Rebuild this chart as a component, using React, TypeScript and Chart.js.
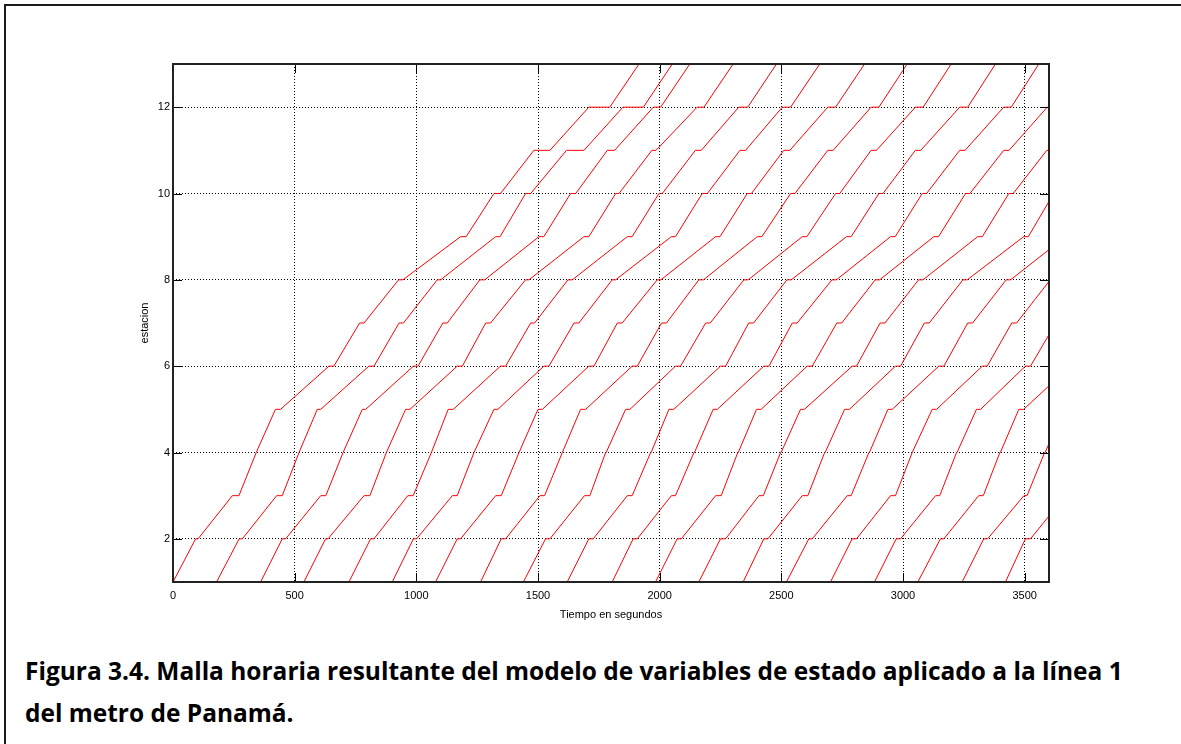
import React, { useEffect, useLayoutEffect, useRef, useState } from 'react';
import { Chart, registerables } from 'chart.js';

Chart.register(...registerables);

// Station visited at each point of a trajectory: depart 1, arrive/depart 2..12, arrive 13
const stationSeq = [1, 2, 2, 3, 3, 4, 4, 5, 5, 6, 6, 7, 7, 8, 8, 9, 9, 10, 10, 11, 11, 12, 12, 13];

const xTickValues = [0, 500, 1000, 1500, 2000, 2500, 3000, 3500];
const yTickValues = [2, 4, 6, 8, 10, 12];

// Times (s) for each train, in the order of stationSeq
const tren01 = [0, 93, 103, 244, 271, 342, 344, 421, 442, 641, 661, 767, 785, 927, 945, 1182, 1205, 1319, 1346, 1483, 1549, 1709, 1795, 1915];
const tren02 = [179, 272, 285, 426, 449, 518, 520, 593, 607, 805, 826, 929, 947, 1086, 1100, 1326, 1344, 1449, 1470, 1617, 1689, 1849, 1933, 2052];
const tren03 = [360, 449, 463, 607, 628, 699, 701, 778, 792, 988, 1007, 1109, 1127, 1261, 1281, 1504, 1524, 1634, 1655, 1785, 1815, 1974, 2004, 2124];
const tren04 = [538, 627, 637, 785, 809, 877, 879, 956, 974, 1168, 1189, 1285, 1305, 1449, 1463, 1689, 1709, 1819, 1833, 1968, 1985, 2154, 2182, 2302];
const tren05 = [723, 812, 826, 965, 987, 1062, 1064, 1131, 1152, 1346, 1367, 1470, 1486, 1623, 1641, 1867, 1887, 1997, 2011, 2147, 2171, 2325, 2362, 2480];
const tren06 = [901, 988, 1001, 1148, 1168, 1237, 1239, 1319, 1335, 1524, 1545, 1648, 1668, 1805, 1819, 2048, 2065, 2175, 2196, 2330, 2353, 2504, 2538, 2658];
const tren07 = [1079, 1168, 1182, 1326, 1349, 1422, 1424, 1500, 1518, 1709, 1730, 1826, 1846, 1990, 2005, 2230, 2248, 2360, 2377, 2510, 2535, 2691, 2723, 2842];
const tren08 = [1264, 1349, 1367, 1508, 1527, 1600, 1602, 1675, 1696, 1887, 1908, 2008, 2028, 2161, 2180, 2401, 2420, 2538, 2556, 2691, 2713, 2869, 2901, 3017];
const tren09 = [1440, 1531, 1549, 1691, 1713, 1778, 1780, 1860, 1878, 2065, 2086, 2189, 2208, 2346, 2364, 2586, 2605, 2723, 2740, 2869, 2891, 3051, 3083, 3198];
const tren10 = [1620, 1709, 1727, 1867, 1887, 1963, 1965, 2038, 2058, 2250, 2271, 2366, 2386, 2523, 2541, 2768, 2787, 2901, 2918, 3051, 3073, 3233, 3266, 3380];
const tren11 = [1805, 1891, 1908, 2048, 2065, 2141, 2143, 2220, 2237, 2428, 2449, 2545, 2565, 2708, 2726, 2949, 2968, 3079, 3097, 3233, 3255, 3414, 3445, 3558];
const tren12 = [1983, 2072, 2089, 2230, 2253, 2321, 2323, 2398, 2417, 2606, 2627, 2728, 2748, 2886, 2904, 3127, 3146, 3257, 3275, 3414, 3436, 3593, 3625];
const tren13 = [2161, 2250, 2271, 2408, 2426, 2497, 2499, 2579, 2595, 2791, 2809, 2906, 2926, 3064, 3082, 3307, 3326, 3435, 3453, 3591, 3613];
const tren14 = [2343, 2428, 2445, 2586, 2609, 2678, 2680, 2760, 2780, 2969, 2990, 3088, 3108, 3246, 3264, 3496, 3515, 3619];
const tren15 = [2521, 2613, 2627, 2771, 2787, 2860, 2862, 2938, 2956, 3147, 3168, 3266, 3286, 3424, 3442, 3668];
const tren16 = [2702, 2791, 2809, 2949, 2969, 3038, 3040, 3120, 3138, 3326, 3346, 3447, 3467, 3605];
const tren17 = [2883, 2972, 2990, 3134, 3151, 3220, 3222, 3302, 3319, 3503, 3524, 3628];
const tren18 = [3061, 3154, 3168, 3311, 3330, 3398, 3400, 3476, 3496, 3687];
const tren19 = [3243, 3332, 3348, 3497, 3510, 3582, 3584, 3661];
const tren20 = [3421, 3503, 3524, 3668];

const trenes = [tren01, tren02, tren03, tren04, tren05, tren06, tren07, tren08, tren09, tren10,
  tren11, tren12, tren13, tren14, tren15, tren16, tren17, tren18, tren19, tren20];

const captionLine1 = 'Figura 3.4. Malla horaria resultante del modelo de variables de estado aplicado a la línea 1';
const captionLine2 = 'del metro de Panamá.';
const captionFamily = '"Open Sans", Lato, sans-serif';

const matlabAxes = {
  id: 'matlabAxes',
  afterDraw(chart: any) {
    const { ctx, chartArea, scales } = chart;
    const { left, right, top, bottom } = chartArea;
    const xs = scales.x;
    const ys = scales.y;
    const len = 9;
    ctx.save();
    ctx.strokeStyle = '#000';
    ctx.lineWidth = 1;
    ctx.beginPath();
    for (const t of xs.ticks) {
      const px = Math.round(xs.getPixelForValue(t.value)) + 0.5;
      ctx.moveTo(px, bottom);
      ctx.lineTo(px, bottom - len);
      ctx.moveTo(px, top);
      ctx.lineTo(px, top + len);
    }
    for (const t of ys.ticks) {
      const py = Math.round(ys.getPixelForValue(t.value)) + 0.5;
      ctx.moveTo(left, py);
      ctx.lineTo(left + len, py);
      ctx.moveTo(right, py);
      ctx.lineTo(right - len, py);
    }
    ctx.stroke();
    ctx.lineWidth = 2;
    ctx.strokeStyle = '#222';
    ctx.strokeRect(left, top, right - left, bottom - top);
    ctx.restore();
  },
};

const tickFont = { family: '"Liberation Sans", Arial, sans-serif', size: 11 };

export default function App() {
  const ref = useRef<HTMLCanvasElement>(null);
  const [capSize, setCapSize] = useState(26);

  useLayoutEffect(() => {
    const c = document.createElement('canvas');
    const ctx = c.getContext('2d');
    if (!ctx) return;
    ctx.font = `700 100px ${captionFamily}`;
    const w = ctx.measureText(captionLine1).width;
    if (w > 0) setCapSize((100 * 1098) / w);
  }, []);

  useEffect(() => {
    const canvas = ref.current;
    if (!canvas) return;
    const chart = new Chart(canvas, {
      type: 'line',
      data: {
        datasets: trenes.map((tr, i) => ({
          label: `Tren ${i + 1}`,
          data: tr.map((t, k) => ({ x: t, y: stationSeq[k] })),
          borderColor: '#ff0000',
          backgroundColor: '#ff0000',
          borderWidth: 1,
          pointRadius: 0,
          pointHoverRadius: 0,
          fill: false,
          tension: 0,
        })),
      },
      options: {
        animation: false,
        responsive: false,
        maintainAspectRatio: false,
        events: [],
        layout: { padding: { left: 133, right: 132, top: 64, bottom: 13 } },
        plugins: {
          legend: { display: false },
          tooltip: { enabled: false },
        },
        scales: {
          x: {
            type: 'linear',
            min: 0,
            max: 3600,
            afterBuildTicks: (s: any) => {
              s.ticks = xTickValues.map((v) => ({ value: v }));
            },
            afterFit: (s: any) => {
              s.height = 45;
            },
            ticks: {
              color: '#000',
              font: tickFont,
              padding: 7,
              maxRotation: 0,
              autoSkip: false,
              callback: (v: any) => String(v),
            },
            grid: { color: '#000', lineWidth: 1, drawTicks: false },
            border: { display: false, dash: [1, 2] },
            title: {
              display: true,
              text: 'Tiempo en segundos',
              color: '#000',
              font: tickFont,
              padding: { top: 0, bottom: 5 },
            },
          },
          y: {
            type: 'linear',
            min: 1,
            max: 13,
            afterBuildTicks: (s: any) => {
              s.ticks = yTickValues.map((v) => ({ value: v }));
            },
            afterFit: (s: any) => {
              s.width = 40;
            },
            ticks: {
              color: '#000',
              font: tickFont,
              padding: 3,
              autoSkip: false,
              callback: (v: any) => String(v),
            },
            grid: { color: '#000', lineWidth: 1, drawTicks: false },
            border: { display: false, dash: [1, 2] },
            title: {
              display: true,
              text: 'estacion',
              color: '#000',
              font: tickFont,
              padding: { top: 5, bottom: 0 },
            },
          },
        },
      },
      plugins: [matlabAxes],
    } as any);
    return () => chart.destroy();
  }, []);

  // Open Sans metrics: ascent 1.069 em, descent 0.293 em
  const lineH = 42;
  const baselineInBox = (lineH - 1.362 * capSize) / 2 + 1.069 * capSize;
  const capTop = 680 - baselineInBox;

  return (
    <div
      style={{
        position: 'absolute',
        left: 0,
        top: 0,
        width: 1181,
        height: 744,
        background: '#fff',
        overflow: 'hidden',
      }}
    >
      <div style={{ position: 'absolute', left: 4, top: 4, width: 1177, height: 2, background: '#1c1c1c' }} />
      <div style={{ position: 'absolute', left: 4, top: 4, width: 2, height: 740, background: '#1c1c1c' }} />
      <canvas
        ref={ref}
        width={1181}
        height={640}
        style={{ position: 'absolute', left: 0, top: 0, width: 1181, height: 640 }}
      />
      <div
        style={{
          position: 'absolute',
          left: 25,
          top: capTop,
          fontFamily: captionFamily,
          fontWeight: 700,
          fontSize: capSize,
          lineHeight: `${lineH}px`,
          color: '#000',
          whiteSpace: 'nowrap',
        }}
      >
        <div>{captionLine1}</div>
        <div>{captionLine2}</div>
      </div>
    </div>
  );
}
